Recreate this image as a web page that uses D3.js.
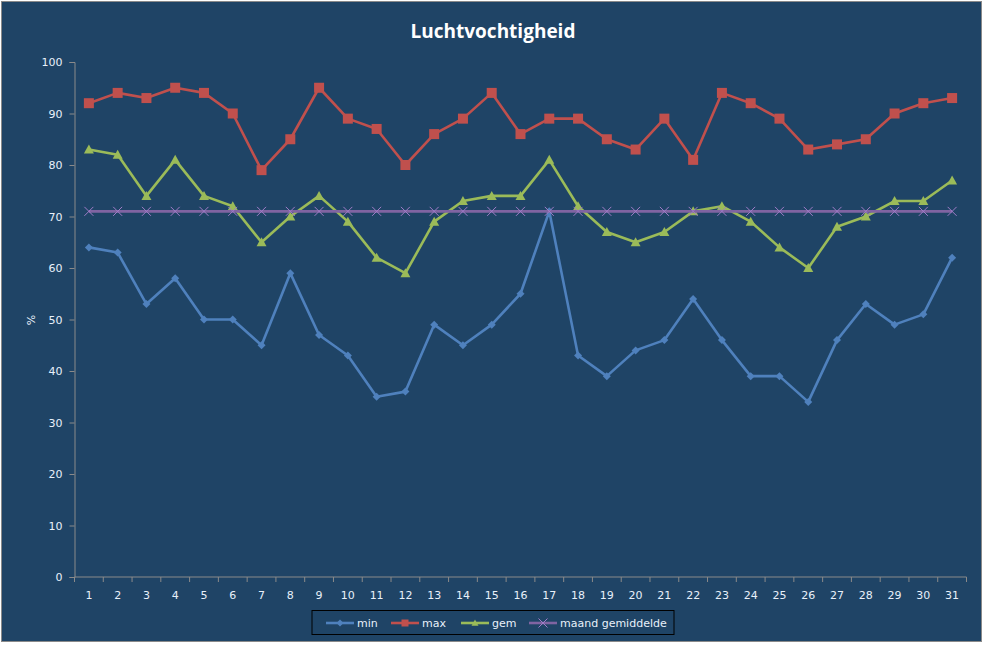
<!DOCTYPE html>
<html><head><meta charset="utf-8">
<script src="https://cdn.jsdelivr.net/npm/d3@7"></script>
<style>body{margin:0;background:#fff;}</style>
</head><body>
<svg id="chart" width="987" height="648"></svg>
<script>
const days = d3.range(1, 32).map(String);
const minVals = [64,63,53,58,50,50,45,59,47,43,35,36,49,45,49,55,71,43,39,44,46,54,46,39,39,34,46,53,49,51,62];
const maxVals = [92,94,93,95,94,90,79,85,95,89,87,80,86,89,94,86,89,89,85,83,89,81,94,92,89,83,84,85,90,92,93];
const gemVals = [83,82,74,81,74,72,65,70,74,69,62,59,69,73,74,74,81,72,67,65,67,71,72,69,64,60,68,70,73,73,77];
const avgVals = [71,71,71,71,71,71,71,71,71,71,71,71,71,71,71,71,71,71,71,71,71,71,71,71,71,71,71,71,71,71,71];
const seriesNames = ["min","max","gem","maand gemiddelde"];
const yTicks = [0,10,20,30,40,50,60,70,80,90,100];

(function(){
const colors = ["#4F81BD","#C0504D","#9BBB59","#8064A2"];
const markers = ["diamond","square","triangle","x"];
const allSeries = [minVals, maxVals, gemVals, avgVals];

const svg = d3.select("#chart");
const font = "DejaVu Sans, Verdana, sans-serif";
svg.append("rect").attr("x",1.5).attr("y",1.5).attr("width",980).attr("height",640)
  .attr("fill","#1F4466").attr("stroke","#8a8a8a").attr("stroke-width",1);

svg.append("text").attr("x",493).attr("y",38).attr("text-anchor","middle")
  .attr("fill","#fff").attr("font-family","'Open Sans', Lato, sans-serif").attr("font-weight","bold")
  .attr("font-size",19).text("Luchtvochtigheid");

const pLeft = 74.5, pRight = 966.5, pTop = 62, pBottom = 577;
const x = d3.scaleBand().domain(days).range([pLeft, pRight]);
const y = d3.scaleLinear().domain([0,100]).range([pBottom, pTop]);

// y axis
const yAxis = svg.append("g").attr("transform",`translate(${pLeft},0)`)
  .call(d3.axisLeft(y).tickValues(yTicks).tickSize(5).tickPadding(7));
yAxis.select(".domain").attr("stroke","#8a8a8a");
yAxis.selectAll(".tick line").attr("stroke","#8a8a8a");
yAxis.selectAll("text").attr("fill","#e8f0fa").attr("font-family",font).attr("font-size",11);

// x axis
const xg = svg.append("g").attr("transform",`translate(0,${pBottom})`);
xg.append("line").attr("x1",pLeft).attr("x2",pRight).attr("stroke","#8a8a8a");
const bounds = days.map(d => x(d)).concat([pRight]);
xg.selectAll("line.tk").data(bounds).join("line").attr("class","tk")
  .attr("x1",d=>d).attr("x2",d=>d).attr("y1",0).attr("y2",5).attr("stroke","#8a8a8a");
xg.selectAll("text").data(days).join("text")
  .attr("x",d=>x(d)+x.bandwidth()/2).attr("y",22).attr("text-anchor","middle")
  .attr("fill","#e8f0fa").attr("font-family",font).attr("font-size",11).text(d=>d);

// y label
svg.append("text").attr("transform","translate(35,320) rotate(-90)").attr("text-anchor","middle")
  .attr("fill","#e8f0fa").attr("font-family",font).attr("font-size",11).text("%");

function drawMarker(g, type, color, size){
  if(type==="diamond"){
    g.append("path").attr("d",`M0,${-size}L${size},0L0,${size}L${-size},0Z`).attr("fill",color);
  } else if(type==="square"){
    g.append("rect").attr("x",-size).attr("y",-size).attr("width",2*size).attr("height",2*size).attr("fill",color);
  } else if(type==="triangle"){
    g.append("path").attr("d",`M0,${-size}L${size},${size*0.8}L${-size},${size*0.8}Z`).attr("fill",color);
  } else {
    g.append("path").attr("d",`M${-size},${-size}L${size},${size}M${-size},${size}L${size},${-size}`)
      .attr("stroke",color).attr("stroke-width",1).attr("fill","none");
  }
}
const msize = [4,5,5,4.5];

const line = d3.line().x((d,i)=>x(days[i])+x.bandwidth()/2).y(d=>y(d));
allSeries.forEach((vals, si) => {
  const g = svg.append("g");
  g.append("path").datum(vals).attr("d",line).attr("fill","none")
    .attr("stroke",colors[si]).attr("stroke-width",2.6).attr("stroke-linejoin","round");
  vals.forEach((v,i) => {
    const mg = g.append("g").attr("transform",`translate(${x(days[i])+x.bandwidth()/2},${y(v)})`);
    drawMarker(mg, markers[si], si===3 ? "#a07cc8" : colors[si], msize[si]);
  });
});

// legend
const lg = svg.append("g");
lg.append("rect").attr("x",312).attr("y",610.5).attr("width",362).attr("height",24)
  .attr("fill","none").attr("stroke","#000").attr("stroke-width",1);
const legX = [326, 391, 461, 529];
seriesNames.forEach((n,i) => {
  const gx = legX[i], gy = 623;
  lg.append("line").attr("x1",gx).attr("x2",gx+28).attr("y1",gy).attr("y2",gy)
    .attr("stroke",colors[i]).attr("stroke-width",2.6);
  const mg = lg.append("g").attr("transform",`translate(${gx+14},${gy})`);
  drawMarker(mg, markers[i], i===3 ? "#a07cc8" : colors[i], i===3?4.5:3.5);
  lg.append("text").attr("x",gx+31).attr("y",gy+4).attr("fill","#e8f0fa")
    .attr("font-family",font).attr("font-size",11).text(n);
});
})();
</script>
</body></html>
